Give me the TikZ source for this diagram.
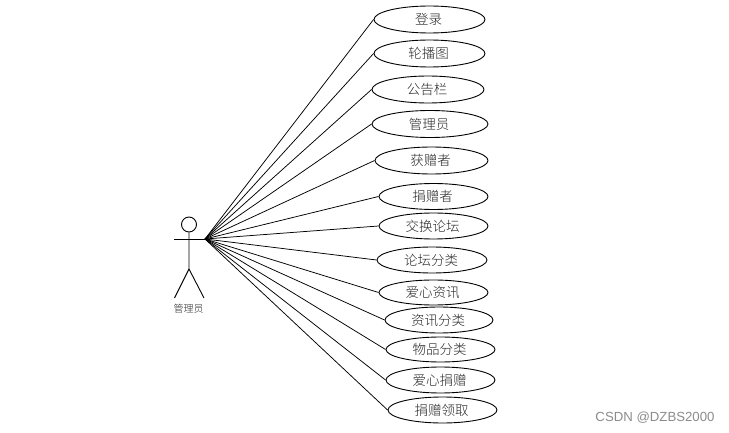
\documentclass[tikz,border=0pt]{standalone}
\usepackage{fontspec}
\setmainfont{Noto Sans CJK SC}[UprightFont=* Light]
\setsansfont{Liberation Sans}
\usetikzlibrary{shapes.geometric}
\tikzset{
  usecase/.style={draw=black,ellipse,inner sep=0pt,line width=0.9pt,font=\fontsize{13.5}{14}\selectfont,text=black!85},
  link/.style={draw=black,line width=0.75pt},
  actorline/.style={draw=black,line width=0.9pt},
}
\begin{document}
\begin{tikzpicture}[x=1pt,y=-1pt]
\useasboundingbox (0,0) rectangle (729,433);
\fill[white] (0,0) rectangle (729,433);
\newcommand{\uc}[7]{\node[usecase,minimum width=#3pt,minimum height=#4pt] (#1) at (#5,#6) {\kern-2pt #7};}
\uc{a}{}{111}{27}{429.5}{19.5}{登录}
\uc{b}{}{111}{27}{429.5}{53.5}{轮播图}
\uc{c}{}{112}{27}{428}{89.5}{公告栏}
\uc{d}{}{116}{27}{430}{124}{管理员}
\uc{e}{}{113}{27}{431.5}{160.5}{获赠者}
\uc{f}{}{109}{26}{433.5}{196.5}{捐赠者}
\uc{g}{}{109}{26}{433.5}{226}{交换论坛}
\uc{h}{}{110}{26}{432}{260}{论坛分类}
\uc{i}{}{109}{25}{433.5}{292.5}{爱心资讯}
\uc{j}{}{108}{26}{439}{320}{资讯分类}
\uc{k}{}{109}{25}{440.5}{349.5}{物品分类}
\uc{l}{}{109}{26}{440.5}{380}{爱心捐赠}
\uc{m}{}{109}{26}{442.5}{410}{捐赠领取}
% actor
\node[draw=black,circle,line width=0.9pt,minimum size=15pt,inner sep=0pt] (head) at (189,224.5) {};
\coordinate (handL) at (174,239);
\coordinate (hand) at (205,239);
\coordinate (hip) at (189,269);
\coordinate (footL) at (174.5,298);
\coordinate (footR) at (204,298);
\draw[actorline] (head.south) -- (hip) -- (footL);
\draw[actorline] (hip) -- (footR);
\draw[actorline] (handL) -- (hand);
\node[font=\fontsize{10}{10}\selectfont,text=black!85,inner sep=0pt] (lab) at (188.5,309) {管理员};
\foreach \n in {a,b,c,d,e,f,g,h,i,j,k,l,m}
  \draw[link] (hand) -- (\n.west);
\node[font=\sffamily\fontsize{13.2}{14}\selectfont,text=black!45,inner sep=0pt] (wm) at (655,418) {CSDN @DZBS2000};
\end{tikzpicture}
\end{document}
